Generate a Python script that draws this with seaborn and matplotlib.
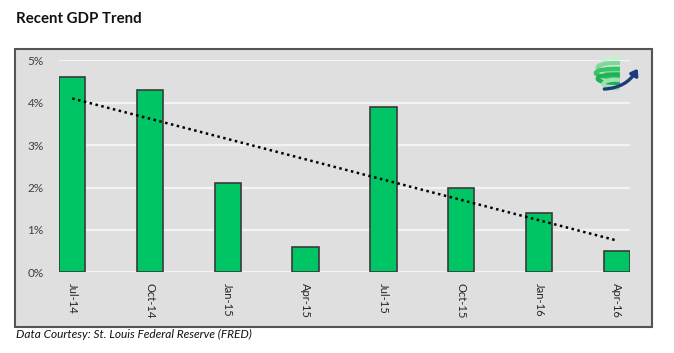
import numpy as np
import pandas as pd
import matplotlib
matplotlib.use('Agg')
import matplotlib.pyplot as plt
from matplotlib.patches import Rectangle, Arc, FancyArrowPatch
import seaborn as sns

### DATA ###
quarters = ['Jul-14', 'Oct-14', 'Jan-15', 'Apr-15', 'Jul-15', 'Oct-15', 'Jan-16', 'Apr-16']
gdp_growth = [4.6, 4.3, 2.1, 0.6, 3.9, 2.0, 1.4, 0.5]   # annualized real GDP growth, %
y_ticks = [0, 1, 2, 3, 4, 5]
y_tick_labels = ['0%', '1%', '2%', '3%', '4%', '5%']

df = pd.DataFrame({'quarter': quarters, 'gdp': gdp_growth, 'pos': np.arange(len(quarters))})

## style
sns.set_style('darkgrid', {'axes.facecolor': '#dfdfdf', 'grid.color': '#f3f3f3'})
plt.rcParams['font.family'] = ['Lato', 'DejaVu Sans']

W, H = 674, 353
fig = plt.figure(figsize=(W / 100, H / 100), dpi=100)
fig.patch.set_facecolor('white')

# gray panel with dark border behind the chart
fig.patches.append(Rectangle((15 / W, 1 - 327 / H), (652 - 15) / W, (327 - 49) / H,
                             transform=fig.transFigure, facecolor='#dfdfdf',
                             edgecolor='#555555', lw=1.5, zorder=-10))

ax = fig.add_axes([59 / W, 1 - 272.3 / H, (630 - 59) / W, (272.3 - 60.3) / H])
ax.set_zorder(1)

## bars + linear trend
sns.barplot(data=df, x='quarter', y='gdp', order=quarters, color='#00c564',
            edgecolor='#3a3a3a', linewidth=1.2, width=0.34, saturation=1, ax=ax)
sns.regplot(data=df, x='pos', y='gdp', scatter=False, ci=None, truncate=True, ax=ax,
            line_kws=dict(color='black', linestyle=(0, (1, 1.4)), lw=1.8))

## format axes
ax.set_xlim(-0.17, 7.17)
ax.set_ylim(0, 5)
ax.set_yticks(y_ticks)
ax.set_yticklabels(y_tick_labels)
ax.set_xticks(range(len(quarters)))
ax.set_xticklabels(quarters, rotation=270, va='top', ha='center')
ax.set_xlabel('')
ax.set_ylabel('')
ax.grid(axis='x', visible=False)
ax.grid(axis='y', lw=1.6)
for s in ax.spines.values():
    s.set_visible(False)
ax.tick_params(axis='y', length=0, pad=11, labelsize=8.5, labelcolor='#404040')
ax.tick_params(axis='x', length=0, pad=8, labelsize=8, labelcolor='#262626')

## titles
fig.text(16 / W, 1 - 22.7 / H, 'Recent GDP Trend', fontweight='bold', fontsize=10.8,
         va='baseline', ha='left', color='#111111')
fig.text(16 / W, 1 - 338 / H, 'Data Courtesy: St. Louis Federal Reserve (FRED)',
         style='italic', fontsize=8.6, va='baseline', ha='left', color='#111111')

## small logo (swirled globe) in top right corner
lg = fig.add_axes([590 / W, 1 - 92 / H, 50 / W, 38 / H])
lg.set_zorder(2)
lg.set_xlim(-1.3, 1.3)
lg.set_ylim(-1, 1)
lg.axis('off')
bands = [(0.6, 1.2, '#c9eed3'), (0.3, 1.8, '#7fd89a'), (0.0, 2.0, '#35c466'), (-0.3, 1.8, '#1db352'), (-0.58, 1.2, '#9fe0b4')]
for yc, w, c in bands:
    lg.add_patch(Arc((0, yc), w, 0.45, theta1=40, theta2=320, color=c, lw=3.0))
lg.add_patch(FancyArrowPatch((-0.7, -0.85), (1.25, 0.35), connectionstyle='arc3,rad=0.3',
                             arrowstyle='-|>,head_length=3.5,head_width=2.5',
                             color='#1d3a7a', lw=2.4))

fig.savefig('out.png', dpi=100)
